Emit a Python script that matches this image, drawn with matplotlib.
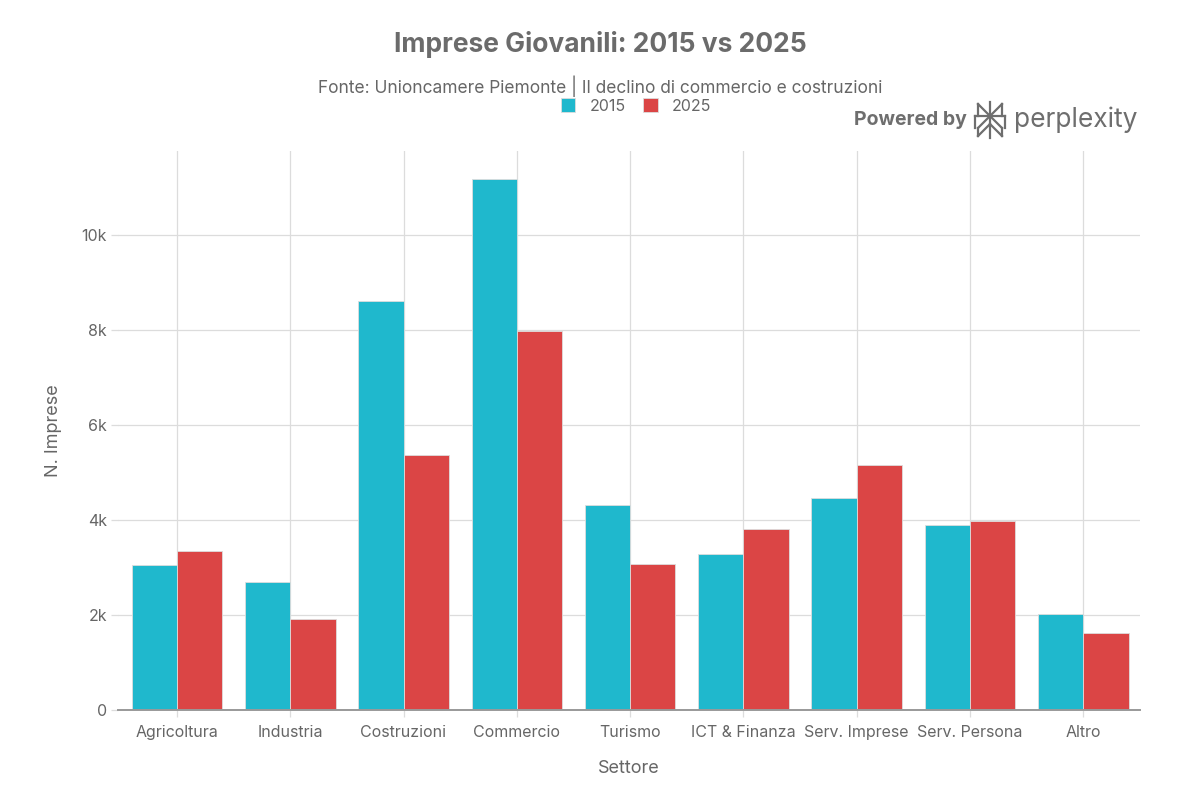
import matplotlib
matplotlib.use("Agg")
import matplotlib.pyplot as plt
import numpy as np
from matplotlib.ticker import FuncFormatter

categories = ["Agricoltura", "Industria", "Costruzioni", "Commercio", "Turismo",
              "ICT & Finanza", "Serv. Imprese", "Serv. Persona", "Altro"]
values_2015 = [3050, 2690, 8620, 11180, 4310, 3280, 4460, 3890, 2020]
values_2025 = [3350, 1920, 5370, 7990, 3070, 3820, 5150, 3970, 1620]
series_names = ["2015", "2025"]
colors = ["#1FB8CD", "#DB4545"]

plt.rcParams['font.family'] = ['Inter', 'DejaVu Sans']
txt = "#666666"

fig = plt.figure(figsize=(12, 8), dpi=100)
ax = fig.add_axes([118/1200, 1-710/800, (1140-118)/1200, (710-151)/800])

x = np.arange(len(categories))
w = 0.4
ax.bar(x - w/2, values_2015, w, color=colors[0], edgecolor="#dddddd", linewidth=0.6,
       label=series_names[0], zorder=3)
ax.bar(x + w/2, values_2025, w, color=colors[1], edgecolor="#dddddd", linewidth=0.6,
       label=series_names[1], zorder=3)

ax.set_xlim(-0.52, len(categories) - 0.5)
ax.set_ylim(0, 11770)
ax.set_yticks([0, 2000, 4000, 6000, 8000, 10000])
ax.yaxis.set_major_formatter(FuncFormatter(lambda v, p: "0" if v == 0 else f"{int(v/1000)}k"))
ax.set_xticks(x)
ax.set_xticklabels(categories)
ax.grid(True, color="#dcdcdc", linewidth=0.9, zorder=0)
for s in ["top", "right", "left"]:
    ax.spines[s].set_visible(False)
ax.spines["bottom"].set_color("#999999")
ax.spines["bottom"].set_linewidth(1.4)
ax.spines["bottom"].set_zorder(4)
ax.tick_params(axis="both", colors="#dcdcdc", labelcolor=txt, labelsize=11.5, length=5, width=0.9)
ax.tick_params(axis="y", pad=3)
ax.tick_params(axis="x", pad=6)

ax.set_xlabel("Settore", fontsize=13, color=txt, labelpad=14)
ax.set_ylabel("N. Imprese", fontsize=13, color=txt, labelpad=14)

fig.text(600/1200, 1-45/800, "Imprese Giovanili: 2015 vs 2025", ha="center", va="center",
         fontsize=19, fontweight="bold", color="#6b6b6b")
fig.text(600/1200, 1-86/800, "Fonte: Unioncamere Piemonte | Il declino di commercio e costruzioni",
         ha="center", va="center", fontsize=12.5, color=txt)

leg = fig.legend(loc="center", bbox_to_anchor=(636/1200, 1-106/800), ncol=2, frameon=False,
                 fontsize=11.5, handlelength=0.9, handleheight=0.9, columnspacing=1.1,
                 handletextpad=0.9, labelcolor=txt)

# Powered by perplexity badge
fig.text(967/1200, 1-120/800, "Powered by", ha="right", va="center", fontsize=14,
         fontweight="bold", color="#6e6e6e")
fig.text(1014/1200, 1-120/800, "perplexity", ha="left", va="center", fontsize=19,
         color="#6e6e6e")
# simple logo glyph
cx, cy = 990, 120
lines = [
    [(cx, cy-18), (cx, cy+18)],
    [(cx-12, cy-16), (cx, cy-4)], [(cx+12, cy-16), (cx, cy-4)],
    [(cx-12, cy-16), (cx-12, cy-4)], [(cx+12, cy-16), (cx+12, cy-4)],
    [(cx-15, cy-4), (cx+15, cy-4)],
    [(cx-15, cy-4), (cx-15, cy+8)], [(cx+15, cy-4), (cx+15, cy+8)],
    [(cx, cy-4), (cx-12, cy+8)], [(cx, cy-4), (cx+12, cy+8)],
    [(cx-12, cy+8), (cx-12, cy+16)], [(cx+12, cy+8), (cx+12, cy+16)],
    [(cx-12, cy+16), (cx, cy+4)], [(cx+12, cy+16), (cx, cy+4)],
]
for (x0, y0), (x1, y1) in lines:
    fig.add_artist(plt.Line2D([x0/1200, x1/1200], [1-y0/800, 1-y1/800],
                              color="#6e6e6e", linewidth=1.6, transform=fig.transFigure))

fig.savefig("out.png", dpi=100, facecolor="white")
